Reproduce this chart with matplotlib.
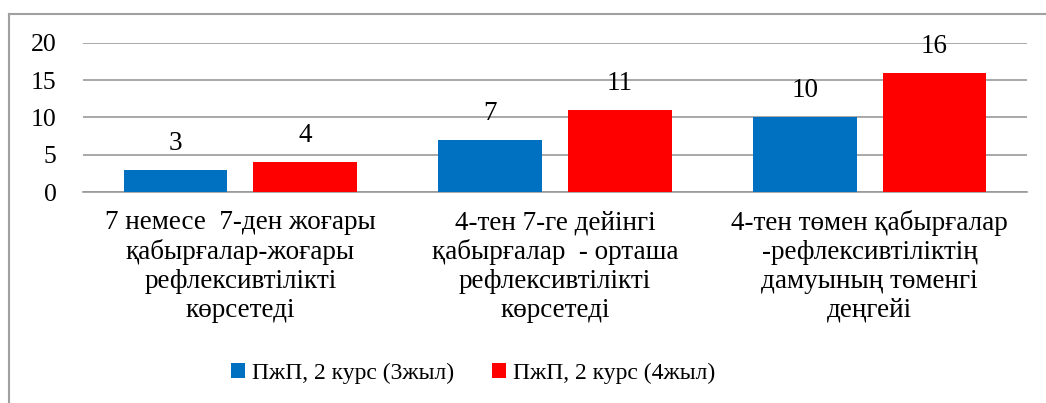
import numpy as np
import matplotlib.pyplot as plt
from matplotlib.lines import Line2D

plt.rcParams['font.family'] = ['Liberation Serif', 'DejaVu Serif']

categories = [
    "7 немесе  7-ден жоғары\nқабырғалар-жоғары\nрефлексивтілікті\nкөрсетеді",
    "4-тен 7-ге дейінгі\nқабырғалар  - орташа\nрефлексивтілікті\nкөрсетеді",
    "4-тен төмен қабырғалар\n-рефлексивтіліктің\nдамуының төменгі\nдеңгейі",
]
series_names = ["ПжП, 2 курс (3жыл)", "ПжП, 2 курс (4жыл)"]
values_3 = [3, 7, 10]
values_4 = [4, 11, 16]
colors = ["#0070C0", "#FF0000"]

fig = plt.figure(figsize=(10.46, 4.03), dpi=100)
ax = fig.add_axes([83 / 1046, 1 - 192 / 403, (1027 - 83) / 1046, (192 - 42.7) / 403])

x = np.arange(len(categories))
w = 0.33
off = 0.206
b1 = ax.bar(x - off, values_3, w, color=colors[0], label=series_names[0], zorder=3)
b2 = ax.bar(x + off, values_4, w, color=colors[1], label=series_names[1], zorder=3)

# value labels above bars
for bars in (b1, b2):
    for r in bars:
        ax.annotate(f"{r.get_height():g}", (r.get_x() + r.get_width() / 2, r.get_height()),
                    xytext=(0, 10), textcoords="offset points", ha="center", va="bottom",
                    fontsize=19.5)

ax.set_xlim(-0.5, 2.5)
ax.set_ylim(0, 20)
ax.set_yticks([0, 5, 10, 15, 20])
ax.yaxis.grid(True, color="#999999", linewidth=1.2, zorder=0)
ax.set_axisbelow(True)
for s in ["top", "right", "left"]:
    ax.spines[s].set_visible(False)
ax.spines["bottom"].set_color("#999999")
ax.spines["bottom"].set_linewidth(1.2)
ax.tick_params(axis="both", length=0)
ax.tick_params(axis="y", pad=19, labelsize=18.5)
ax.tick_params(axis="x", pad=13, labelsize=19.5)
ax.set_xticks(x)
ax.set_xticklabels(categories, linespacing=1.2)

# outer frame (left and top edges visible)
fig.add_artist(Line2D([9 / 1046, 9 / 1046], [0, 1 - 14 / 403], transform=fig.transFigure,
                      color="#a0a0a0", linewidth=1.5))
fig.add_artist(Line2D([9 / 1046, 1], [1 - 14 / 403, 1 - 14 / 403], transform=fig.transFigure,
                      color="#a0a0a0", linewidth=1.5))

fig.legend(loc="center", bbox_to_anchor=(473 / 1046, 1 - 373 / 403), ncol=2, frameon=False,
           fontsize=17, handlelength=0.6, handleheight=0.6, handletextpad=0.3,
           columnspacing=1.6)

fig.savefig("out.png", dpi=100)
